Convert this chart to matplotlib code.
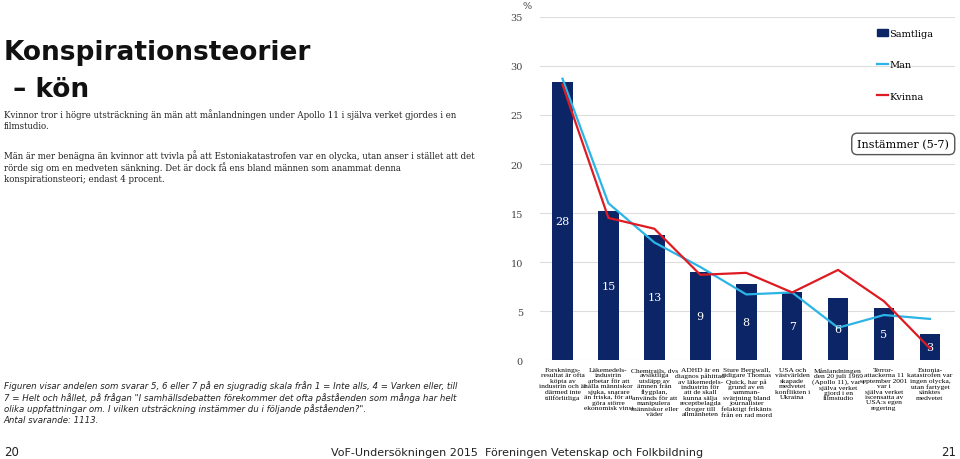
import matplotlib.pyplot as plt
from matplotlib.lines import Line2D
from matplotlib.patches import Patch

categories = [
    "Forsknings-\nresultat är ofta\nköpta av\nindustrin och är\ndärmed inte\ntillförlitliga",
    "Läkemedels-\nindustrin\narbetar för att\nhålla människor\nsjuka, snarare\nän friska, för att\ngöra större\nekonomisk vinst",
    "Chemtrails, dvs\navsiktliga\nutsläpp av\nämnen från\nflygplan,\nanvänds för att\nmanipulera\nmänniskor eller\nväder",
    "ADHD är en\ndiagnos påhittad\nav läkemedels-\nindustrin för\natt de skall\nkunna sälja\nreceptbelagda\ndroger till\nallmänheten",
    "Sture Bergwall,\ntidigare Thomas\nQuick, har på\ngrund av en\nsamman-\nsvärjning bland\njournalister\nfelaktigt frikänts\nfrån en rad mord",
    "USA och\nvästvärlden\nskapade\nmedvetet\nkonflikten i\nUkraina",
    "Månlandningen\nden 20 juli 1969\n(Apollo 11), var i\nsjälva verket\ngjord i en\nfilmstudio",
    "Terror-\nattackerna 11\nseptember 2001\nvar i\nsjälva verket\niscensatta av\nUSA:s egen\nregering",
    "Estonia-\nkatastrofen var\ningen olycka,\nutan fartyget\nsänktes\nmedvetet",
]
samtliga = [28.4, 15.2, 12.8, 9.0, 7.8, 6.9, 6.3, 5.3, 2.7]
samtliga_labels = ["28", "15", "13", "9", "8", "7", "6", "5", "3"]
man = [28.7, 16.0, 12.0, 9.5, 6.7, 6.9, 3.3, 4.6, 4.2]
kvinna = [28.1, 14.5, 13.4, 8.7, 8.9, 6.9, 9.2, 6.0, 1.2]

NAVY = "#0b2567"
CYAN = "#2cb4e6"
RED = "#de1b22"
SERIF = "DejaVu Serif"

fig = plt.figure(figsize=(9.6, 4.6), dpi=100)
ax = fig.add_axes([0.562, 0.215, 0.433, 0.746])

x = list(range(len(categories)))
ax.bar(x, samtliga, width=0.45, color=NAVY, zorder=2)
ax.plot(x, man, color=CYAN, lw=1.6, zorder=3)
ax.plot(x, kvinna, color=RED, lw=1.6, zorder=4)
for xi, v, lab in zip(x, samtliga, samtliga_labels):
    ax.text(xi, v / 2, lab, ha="center", va="center", color="white",
            fontsize=8, family=SERIF, zorder=5)

ax.set_xlim(-0.5, 8.55)
ax.set_ylim(0, 35)
ax.set_yticks(range(0, 36, 5))
ax.tick_params(axis="y", length=0, labelsize=7, labelcolor="#444444", pad=12)
for lbl in ax.get_yticklabels():
    lbl.set_family(SERIF)
ax.set_xticks(x)
ax.set_xticklabels(categories, fontsize=5.4, family="Liberation Serif", linespacing=1.1, va="top")
ax.tick_params(axis="x", length=0, pad=5)
ax.grid(axis="y", color="#dddddd", lw=0.8, zorder=0)
for s in ax.spines.values():
    s.set_visible(False)
ax.text(-0.02, 1.025, "%", transform=ax.transAxes, ha="right", fontsize=7,
        family=SERIF, color="#444444")

handles = [Patch(color=NAVY), Line2D([], [], color=CYAN, lw=1.6), Line2D([], [], color=RED, lw=1.6)]
ax.legend(handles, ["Samtliga", "Man", "Kvinna"], loc="upper left", bbox_to_anchor=(0.79, 0.99),
          frameon=False, labelspacing=2.3, handlelength=1.2, handletextpad=0.1,
          prop={"family": SERIF, "size": 7})
ax.text(0.875, 0.63, "Instämmer (5-7)", transform=ax.transAxes, ha="center", va="center",
        fontsize=8, family=SERIF,
        bbox=dict(boxstyle="round,pad=0.5", fc="white", ec="#555555", lw=1))

fig.text(0.004, 0.87, "Konspirationsteorier", fontsize=19, fontweight="bold", color="#111111")
fig.text(0.004, 0.79, " – kön", fontsize=19, fontweight="bold", color="#111111")
fig.text(0.004, 0.72,
         "Kvinnor tror i högre utsträckning än män att månlandningen under Apollo 11 i själva verket gjordes i en\nfilmstudio.",
         fontsize=6.2, family=SERIF, color="#222222", linespacing=1.2)
fig.text(0.004, 0.605,
         "Män är mer benägna än kvinnor att tvivla på att Estoniakatastrofen var en olycka, utan anser i stället att det\n"
         "rörde sig om en medveten sänkning. Det är dock få ens bland männen som anammat denna\n"
         "konspirationsteori; endast 4 procent.",
         fontsize=6.2, family=SERIF, color="#222222", linespacing=1.2)
fig.text(0.004, 0.08,
         "Figuren visar andelen som svarar 5, 6 eller 7 på en sjugradig skala från 1 = Inte alls, 4 = Varken eller, till\n"
         "7 = Helt och hållet, på frågan \"I samhällsdebatten förekommer det ofta påståenden som många har helt\n"
         "olika uppfattningar om. I vilken utsträckning instämmer du i följande påståenden?\".\n"
         "Antal svarande: 1113.",
         fontsize=6.2, family="DejaVu Sans", style="italic", color="#222222", linespacing=1.25)

fig.text(0.004, 0.008, "20", fontsize=8.5, color="#222222")
fig.text(0.345, 0.008, "VoF-Undersökningen 2015", fontsize=8, color="#222222")
fig.text(0.505, 0.008, "Föreningen Vetenskap och Folkbildning", fontsize=8, color="#222222")
fig.text(0.996, 0.008, "21", fontsize=8.5, ha="right", color="#222222")

fig.savefig("out.png", dpi=100)
